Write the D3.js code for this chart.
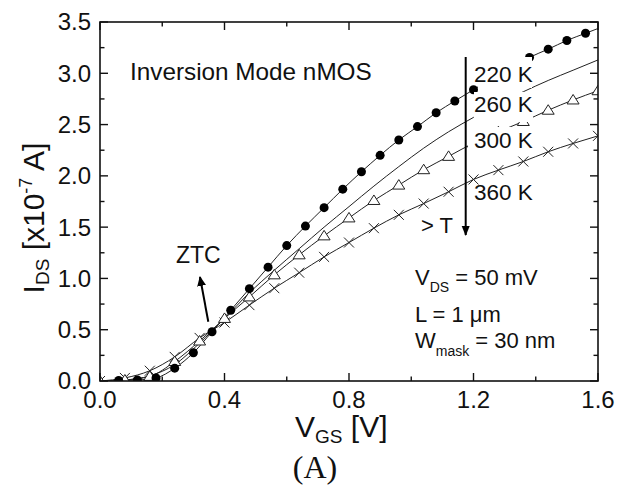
<!DOCTYPE html>
<html>
<head>
<meta charset="utf-8">
<script src="https://cdn.jsdelivr.net/npm/d3@7"></script>
<style>
  body { margin: 0; background: #fff; }
  text { font-family: "Liberation Sans", Arial, sans-serif; fill: #111; }
</style>
</head>
<body>
<div id="chart"></div>
<script>
// values, I_DS in units of 1e-7 A
var vgs220 = [0.06,0.12,0.18,0.24,0.30,0.36,0.42,0.48,0.54,0.60,0.66,0.72,0.78,0.84,0.90,0.96,1.02,1.08,1.14,1.20,1.26,1.32,1.38,1.44,1.50,1.56,1.62];
var ids220 = [0.005,0.01,0.03,0.125,0.275,0.48,0.69,0.90,1.11,1.32,1.51,1.69,1.87,2.04,2.20,2.35,2.48,2.615,2.73,2.84,2.95,3.05,3.155,3.235,3.32,3.39,3.46];

var vgs260 = [0.0,0.08,0.16,0.24,0.32,0.40,0.48,0.56,0.64,0.72,0.80,0.88,0.96,1.04,1.12,1.20,1.28,1.36,1.44,1.52,1.60];
var ids260 = [0.0,0.01,0.05,0.16,0.37,0.61,0.86,1.08,1.29,1.50,1.70,1.90,2.09,2.27,2.43,2.57,2.70,2.82,2.93,3.03,3.13];

var vgs300 = [0.0,0.08,0.16,0.24,0.32,0.40,0.48,0.56,0.64,0.72,0.80,0.88,0.96,1.04,1.12,1.20,1.28,1.36,1.44,1.52,1.60];
var ids300 = [0.0,0.01,0.045,0.19,0.39,0.61,0.82,1.035,1.23,1.415,1.59,1.76,1.91,2.06,2.19,2.32,2.43,2.53,2.64,2.74,2.83];

var vgs360 = [0.0,0.08,0.16,0.24,0.32,0.40,0.48,0.56,0.64,0.72,0.80,0.88,0.96,1.04,1.12,1.20,1.28,1.36,1.44,1.52,1.60];
var ids360 = [0.0,0.03,0.10,0.235,0.42,0.57,0.74,0.905,1.056,1.21,1.35,1.49,1.62,1.73,1.845,1.965,2.056,2.14,2.235,2.316,2.39];

var xTicks = [0.0,0.4,0.8,1.2,1.6];
var yTicks = [0.0,0.5,1.0,1.5,2.0,2.5,3.0,3.5];
var tempLabels = ["220 K","260 K","300 K","360 K"];

var W = 626, H = 488;
var m = {l:100, r:28, t:22, b:107};

var svg = d3.select("#chart").append("svg")
  .attr("width", W).attr("height", H);

var x = d3.scaleLinear().domain([0,1.6]).range([m.l, W-m.r]);
var y = d3.scaleLinear().domain([0,3.5]).range([H-m.b, m.t]);

svg.append("clipPath").attr("id","plot")
  .append("rect")
  .attr("x", m.l).attr("y", m.t)
  .attr("width", W-m.l-m.r).attr("height", H-m.t-m.b);

function pts(xs, ys){
  return xs.map(function(v,i){ return {x:v, y:ys[i]}; });
}

var line = d3.line()
  .x(function(d){ return x(d.x); })
  .y(function(d){ return y(d.y); })
  .curve(d3.curveMonotoneX);

var g = svg.append("g").attr("clip-path","url(#plot)");

var s220 = pts(vgs220, ids220), s260 = pts(vgs260, ids260),
    s300 = pts(vgs300, ids300), s360 = pts(vgs360, ids360);

[s220, s260, s300, s360].forEach(function(s){
  g.append("path").datum(s)
   .attr("d", line)
   .attr("fill","none")
   .attr("stroke","#222")
   .attr("stroke-width",1);
});

// 360 K crosses
g.selectAll(".cross").data(s360).enter()
 .append("path")
 .attr("transform", function(d){ return "translate("+x(d.x)+","+y(d.y)+")"; })
 .attr("d","M-5,-5L5,5M-5,5L5,-5")
 .attr("stroke","#222").attr("stroke-width",1).attr("fill","none");

// 300 K open triangles
g.selectAll(".tri").data(s300).enter()
 .append("path")
 .attr("transform", function(d){ return "translate("+x(d.x)+","+y(d.y)+")"; })
 .attr("d","M0,-5.5L6,4L-6,4Z")
 .attr("stroke","#222").attr("stroke-width",1).attr("fill","#fff");

// 220 K filled circles
g.selectAll(".dot").data(s220).enter()
 .append("circle")
 .attr("cx", function(d){ return x(d.x); })
 .attr("cy", function(d){ return y(d.y); })
 .attr("r", 4.5)
 .attr("fill","#000");

// white boxes behind the temperature labels (they hide the curves)
var boxes = [
  {x0:478, x1:532, y0:57, y1:88},
  {x0:474, x1:533, y0:92, y1:122},
  {x0:468, x1:533, y0:127, y1:153}
];
svg.selectAll(".box").data(boxes).enter()
 .append("rect")
 .attr("x", function(d){ return d.x0; })
 .attr("y", function(d){ return d.y0; })
 .attr("width", function(d){ return d.x1-d.x0; })
 .attr("height", function(d){ return d.y1-d.y0; })
 .attr("fill","#fff");

var labelBase = [82, 112, 148, 200];
svg.selectAll(".tl").data(tempLabels).enter()
 .append("text")
 .attr("x", 474)
 .attr("y", function(d,i){ return labelBase[i]; })
 .attr("font-size", 22.5)
 .text(function(d){ return d; });

// frame and ticks
svg.append("rect")
  .attr("x", m.l).attr("y", m.t)
  .attr("width", W-m.l-m.r).attr("height", H-m.t-m.b)
  .attr("fill","none").attr("stroke","#111").attr("stroke-width",1.6);

var xMinor = d3.range(0, 1.61, 0.2);
var yMinor = d3.range(0, 3.51, 0.25);
var tk = svg.append("g").attr("stroke","#111").attr("stroke-width",1.4);
xMinor.forEach(function(v){
  var len = (Math.abs(v/0.4 - Math.round(v/0.4)) < 1e-6) ? 8 : 4.5;
  tk.append("line").attr("x1",x(v)).attr("x2",x(v)).attr("y1",y(0)).attr("y2",y(0)-len);
  tk.append("line").attr("x1",x(v)).attr("x2",x(v)).attr("y1",y(3.5)).attr("y2",y(3.5)+len);
});
yMinor.forEach(function(v){
  var len = (Math.abs(v/0.5 - Math.round(v/0.5)) < 1e-6) ? 8 : 4.5;
  tk.append("line").attr("y1",y(v)).attr("y2",y(v)).attr("x1",x(0)).attr("x2",x(0)+len);
  tk.append("line").attr("y1",y(v)).attr("y2",y(v)).attr("x1",x(1.6)).attr("x2",x(1.6)-len);
});

svg.selectAll(".xt").data(xTicks).enter()
 .append("text")
 .attr("x", function(d){ return x(d); })
 .attr("y", 408)
 .attr("text-anchor","middle")
 .attr("font-size", 24)
 .text(function(d){ return d3.format(".1f")(d); });

svg.selectAll(".yt").data(yTicks).enter()
 .append("text")
 .attr("x", 91)
 .attr("y", function(d){ return y(d); })
 .attr("dy","0.35em")
 .attr("text-anchor","end")
 .attr("font-size", 24)
 .text(function(d){ return d3.format(".1f")(d); });

// axis titles
var xl = svg.append("text").attr("x", 295).attr("y", 437).attr("font-size", 30);
xl.append("tspan").text("V");
xl.append("tspan").attr("font-size",19).attr("dy",6).text("GS");
xl.append("tspan").attr("dy",-6).text(" [V]");

var yl = svg.append("text")
  .attr("transform","translate(44,218) rotate(-90)")
  .attr("text-anchor","middle")
  .attr("font-size", 30);
yl.append("tspan").text("I");
yl.append("tspan").attr("font-size",19).attr("dy",5).text("DS");
yl.append("tspan").attr("dy",-5).text(" [x10");
yl.append("tspan").attr("font-size",18).attr("dy",-12).text("-7");
yl.append("tspan").attr("dy",12).text(" A]");

svg.append("text")
  .attr("x", 315).attr("y", 478)
  .attr("text-anchor","middle")
  .attr("font-size", 32)
  .style("font-family","'Liberation Serif', 'Times New Roman', serif")
  .text("(A)");

svg.append("text").attr("x",130).attr("y",80).attr("font-size",24.3)
  .text("Inversion Mode nMOS");

// temperature arrow
var defs = svg.append("defs");
defs.append("marker").attr("id","head")
  .attr("viewBox","0 0 10 10").attr("refX",9).attr("refY",5)
  .attr("markerWidth",5).attr("markerHeight",5)
  .attr("markerUnits","strokeWidth")
  .attr("orient","auto")
  .append("path").attr("d","M0,1L10,5L0,9Z").attr("fill","#000");
defs.append("marker").attr("id","head2")
  .attr("viewBox","0 0 10 10").attr("refX",9).attr("refY",5)
  .attr("markerWidth",5).attr("markerHeight",5)
  .attr("markerUnits","strokeWidth")
  .attr("orient","auto")
  .append("path").attr("d","M0,0.5L10,5L0,9.5Z").attr("fill","#000");

svg.append("line")
  .attr("x1",465.7).attr("x2",465.7).attr("y1",57).attr("y2",235)
  .attr("stroke","#000").attr("stroke-width",2)
  .attr("marker-end","url(#head)");

svg.append("text").attr("x",421).attr("y",233).attr("font-size",22).text("> T");

// ZTC arrow
svg.append("text").attr("x",176).attr("y",263).attr("font-size",23).text("ZTC");
svg.append("line")
  .attr("x1",208.3).attr("y1",321.7).attr("x2",200).attr("y2",277)
  .attr("stroke","#000").attr("stroke-width",2)
  .attr("marker-end","url(#head2)");

// conditions
var c1 = svg.append("text").attr("x",415).attr("y",285).attr("font-size",22);
c1.append("tspan").text("V");
c1.append("tspan").attr("font-size",14).attr("dy",7).text("DS");
c1.append("tspan").attr("dy",-7).text(" = 50 mV");

svg.append("text").attr("x",415).attr("y",322).attr("font-size",22).text("L = 1 \u03bcm");

var c3 = svg.append("text").attr("x",415).attr("y",348).attr("font-size",22);
c3.append("tspan").text("W");
c3.append("tspan").attr("font-size",14).attr("dy",8).text("mask");
c3.append("tspan").attr("dy",-8).text(" = 30 nm");
</script>
</body>
</html>
